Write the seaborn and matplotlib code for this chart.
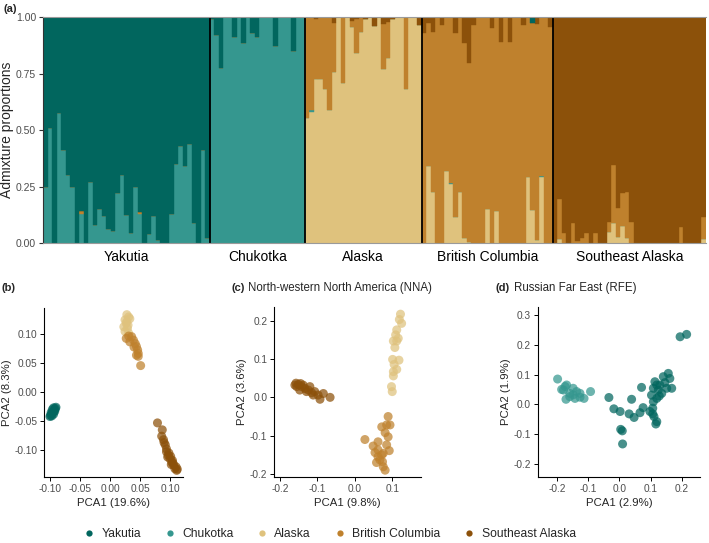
"""Admixture barplot (a) plus three PCA panels (b)-(d)."""
import numpy as np
import pandas as pd
import matplotlib
matplotlib.use("Agg")
import matplotlib.pyplot as plt
from matplotlib.lines import Line2D
import seaborn as sns

POPS = ["Yakutia", "Chukotka", "Alaska", "British Columbia", "Southeast Alaska"]
COLORS = {
    "Yakutia": "#01665e",
    "Chukotka": "#35978f",
    "Alaska": "#dfc27d",
    "British Columbia": "#bf812d",
    "Southeast Alaska": "#8c510a",
}
# bottom -> top order of the stacked admixture bars
STACK_ORDER = ["Alaska", "Chukotka", "British Columbia", "Southeast Alaska", "Yakutia"]

# ---- (a) admixture: minor components per individual, major = remainder ----
yak_chuk = [0.246, 0.51, 0, 0.574, 0.41, 0.30, 0.25, 0, 0.13, 0, 0.27, 0.08, 0.15,
            0.12, 0.06, 0.053, 0.22, 0.30, 0.124, 0.043, 0.25, 0.128, 0, 0.04, 0.12,
            0.015, 0, 0, 0.128, 0.35, 0.43, 0.34, 0.44, 0.087, 0, 0.41, 0.024]
yak_bc = [0, 0, 0, 0, 0, 0, 0, 0, 0.012, 0, 0, 0, 0, 0, 0, 0, 0, 0, 0, 0, 0,
          0.01, 0, 0, 0, 0, 0, 0, 0, 0, 0, 0, 0, 0, 0, 0, 0]

chuk_yak = [0.01, 0.078, 0.225, 0, 0, 0.09, 0, 0.115, 0, 0.07, 0.09, 0, 0, 0,
            0.13, 0, 0, 0, 0.15, 0, 0]

ala_bc = [0.448, 0.41, 0.266, 0.276, 0.32, 0.41, 0.214, 0, 0.29, 0, 0.03, 0.15,
          0.065, 0, 0, 0, 0, 0.2, 0.16, 0, 0, 0, 0.32, 0, 0, 0]
ala_sea = [0, 0, 0.01, 0, 0, 0, 0.028, 0, 0, 0, 0.016, 0.01, 0, 0.008, 0, 0.04,
           0, 0.03, 0.02, 0.01, 0, 0, 0, 0, 0, 0.035]
ala_chuk = [0, 0.012, 0, 0, 0, 0, 0, 0, 0, 0, 0, 0, 0, 0, 0, 0, 0, 0, 0, 0, 0,
            0, 0, 0, 0, 0]

bc_ala = [0, 0.34, 0.227, 0, 0, 0.32, 0.26, 0.116, 0.227, 0.02, 0.005, 0, 0, 0,
          0.15, 0, 0.14, 0, 0, 0, 0, 0, 0, 0.29, 0.146, 0.013, 0.29, 0, 0]
bc_sea = [0.072, 0.028, 0.065, 0, 0.035, 0, 0, 0.07, 0, 0.117, 0.205, 0.035, 0,
          0, 0, 0.05, 0, 0.11, 0, 0.11, 0, 0, 0.035, 0, 0, 0.03, 0, 0, 0.045]
bc_yak = [0] * 23 + [0, 0.028, 0, 0, 0, 0, 0]
bc_chuk = [0, 0, 0, 0, 0, 0, 0.005, 0, 0, 0, 0, 0, 0, 0, 0, 0, 0, 0, 0, 0, 0,
           0, 0, 0, 0, 0, 0.006, 0, 0]

sea_bc = [0, 0.177, 0.046, 0, 0.09, 0.01, 0.02, 0.043, 0, 0.046, 0, 0, 0.044,
          0.257, 0.125, 0.148, 0.207, 0.094, 0, 0, 0, 0, 0, 0, 0, 0, 0, 0,
          0.072, 0, 0, 0, 0, 0.097]
sea_ala = [0, 0.016, 0, 0, 0, 0, 0, 0, 0, 0, 0, 0, 0.05, 0.087, 0.028, 0.075,
           0.02, 0, 0, 0, 0, 0, 0, 0, 0, 0, 0, 0, 0, 0, 0, 0, 0, 0.016]

ADMIX = {
    "Yakutia": {"Chukotka": yak_chuk, "British Columbia": yak_bc},
    "Chukotka": {"Yakutia": chuk_yak},
    "Alaska": {"British Columbia": ala_bc, "Southeast Alaska": ala_sea,
               "Chukotka": ala_chuk},
    "British Columbia": {"Alaska": bc_ala, "Southeast Alaska": bc_sea,
                         "Yakutia": bc_yak, "Chukotka": bc_chuk},
    "Southeast Alaska": {"British Columbia": sea_bc, "Alaska": sea_ala},
}

# ---- PCA coordinates (PCA1, PCA2) ----
b_yakutia = [(-0.099, -0.040), (-0.097, -0.037), (-0.095, -0.034), (-0.093, -0.031),
             (-0.091, -0.028), (-0.096, -0.030), (-0.094, -0.038), (-0.098, -0.035),
             (-0.092, -0.033), (-0.100, -0.042), (-0.090, -0.026), (-0.094, -0.027),
             (-0.097, -0.041)]
b_chukotka = [(-0.096, -0.036), (-0.094, -0.033), (-0.092, -0.030)]
b_alaska = [(0.028, 0.134), (0.031, 0.130), (0.025, 0.125), (0.027, 0.119),
            (0.023, 0.113), (0.029, 0.110), (0.025, 0.105), (0.031, 0.102),
            (0.028, 0.122), (0.033, 0.127), (0.030, 0.116)]
b_bc = [(0.027, 0.093), (0.036, 0.096), (0.039, 0.090), (0.042, 0.084), (0.044, 0.079),
        (0.046, 0.073), (0.047, 0.067), (0.047, 0.062), (0.044, 0.064), (0.033, 0.087),
        (0.031, 0.097), (0.040, 0.078), (0.051, 0.046)]
b_sea = [(0.079, -0.053), (0.087, -0.065), (0.086, -0.076), (0.089, -0.082),
         (0.092, -0.091), (0.090, -0.087), (0.094, -0.098), (0.094, -0.103),
         (0.097, -0.109), (0.098, -0.105), (0.100, -0.115), (0.101, -0.111),
         (0.103, -0.121), (0.104, -0.118), (0.106, -0.126), (0.105, -0.123),
         (0.108, -0.132), (0.110, -0.129), (0.111, -0.135), (0.112, -0.133),
         (0.096, -0.112), (0.102, -0.125)]

c_alaska = [(0.122, 0.217), (0.119, 0.203), (0.125, 0.193), (0.112, 0.176),
            (0.109, 0.163), (0.103, 0.147), (0.112, 0.147), (0.116, 0.154),
            (0.107, 0.130), (0.101, 0.099), (0.118, 0.097), (0.105, 0.086),
            (0.112, 0.073), (0.103, 0.067), (0.103, 0.056), (0.098, 0.028),
            (0.100, 0.015)]
c_bc = [(0.089, -0.050), (0.085, -0.072), (0.094, -0.072), (0.072, -0.077),
        (0.081, -0.092), (0.089, -0.103), (0.027, -0.110), (0.049, -0.127),
        (0.062, -0.116), (0.085, -0.124), (0.076, -0.146), (0.092, -0.139),
        (0.054, -0.144), (0.062, -0.155), (0.072, -0.150), (0.058, -0.170),
        (0.067, -0.163), (0.076, -0.181), (0.081, -0.190), (0.062, -0.137),
        (0.074, -0.168)]
c_sea = [(-0.160, 0.032), (-0.151, 0.034), (-0.142, 0.028), (-0.133, 0.023),
         (-0.124, 0.019), (-0.115, 0.012), (-0.107, 0.015), (-0.098, 0.006),
         (-0.093, -0.005), (-0.084, 0.010), (-0.066, 0.000), (-0.147, 0.019),
         (-0.129, 0.015), (-0.138, 0.032), (-0.155, 0.028), (-0.120, 0.028),
         (-0.111, 0.006), (-0.157, 0.037), (-0.145, 0.036)]

d_chukotka = [(-0.199, 0.085), (-0.175, 0.060), (-0.170, 0.065), (-0.186, 0.050),
              (-0.149, 0.054), (-0.160, 0.037), (-0.138, 0.043), (-0.127, 0.037),
              (-0.172, 0.017), (-0.143, 0.020), (-0.127, 0.024), (-0.114, 0.020),
              (-0.093, 0.043), (-0.160, 0.026), (-0.149, 0.032), (-0.180, 0.048)]
d_yakutia = [(-0.034, 0.023), (-0.018, -0.015), (0.002, -0.024), (0.039, 0.017),
             (0.031, -0.032), (0.047, -0.044), (0.071, 0.057), (0.066, -0.028),
             (0.076, -0.011), (0.098, -0.024), (0.107, -0.032), (0.004, -0.084),
             (0.009, -0.089), (0.010, -0.133), (0.109, 0.054), (0.114, 0.076),
             (0.120, 0.065), (0.109, 0.009), (0.120, 0.020), (0.128, 0.028),
             (0.125, 0.048), (0.141, 0.093), (0.157, 0.104), (0.162, 0.087),
             (0.146, 0.073), (0.152, 0.054), (0.168, 0.054), (0.130, 0.065),
             (0.117, -0.066), (0.120, -0.058), (0.111, -0.041), (0.107, -0.013),
             (0.195, 0.227), (0.216, 0.235), (0.136, 0.037), (0.103, 0.031)]

TICK_GREY = "#4d4d4d"


def admixture_frame():
    rows = []
    bar = 0
    for pop in POPS:
        minors = ADMIX[pop]
        n = len(next(iter(minors.values())))
        for i in range(n):
            rest = 1.0
            for cl, vals in minors.items():
                rows.append((bar, pop, cl, vals[i]))
                rest -= vals[i]
            rows.append((bar, pop, pop, rest))
            bar += 1
    return pd.DataFrame(rows, columns=["bar", "pop", "cluster", "prop"])


def pca_frame(groups):
    frames = []
    for pop, pts in groups:
        d = pd.DataFrame(pts, columns=["PC1", "PC2"])
        d["pop"] = pop
        frames.append(d)
    return pd.concat(frames, ignore_index=True)


sns.set_theme(style="ticks")
plt.rcParams["font.family"] = ["Liberation Sans", "DejaVu Sans"]
plt.rcParams["axes.unicode_minus"] = False

W, H = 709, 543
fig = plt.figure(figsize=(W / 100, H / 100), dpi=100)


def px_axes(l, t, r, b):
    return fig.add_axes([l / W, 1 - b / H, (r - l) / W, (b - t) / H])


# ---------------- (a) ----------------
adm = admixture_frame()
wide = adm.pivot_table(index="bar", columns="cluster", values="prop",
                       aggfunc="sum").fillna(0)[STACK_ORDER]
ax = px_axes(43, 17, 706, 243)
bottom = np.zeros(len(wide))
for cl in STACK_ORDER:
    ax.bar(wide.index, wide[cl], bottom=bottom, width=1.0, color=COLORS[cl],
           edgecolor=COLORS[cl], linewidth=0.3)
    bottom += wide[cl].to_numpy()

counts = adm.groupby("pop", sort=False)["bar"].nunique().reindex(POPS)
edges = np.cumsum(counts.to_numpy())
starts = edges - counts.to_numpy()
for e in edges[:-1]:
    ax.axvline(e - 0.5, color="black", lw=1.3)
ax.set_xlim(-0.5, edges[-1] - 0.5)
ax.set_ylim(0, 1)
ax.set_xticks((starts + edges - 1) / 2)
ax.set_xticklabels(POPS, fontsize=10, color="black")
ax.tick_params(axis="x", length=0, pad=5)
ax.set_yticks([0, 0.25, 0.5, 0.75, 1.0])
ax.set_yticklabels(["0.00", "0.25", "0.50", "0.75", "1.00"], fontsize=7.5,
                   color=TICK_GREY)
ax.tick_params(axis="y", length=3, width=0.8, color="#333333", pad=2)
ax.set_ylabel("Admixture proportions", fontsize=10, labelpad=1)
for side in ("left", "top", "bottom"):
    ax.spines[side].set_color("#9a9a9a")
    ax.spines[side].set_linewidth(0.8)
ax.spines["left"].set_color("#333333")
ax.spines["right"].set_visible(False)
fig.text(3 / W, 1 - 9 / H, "(a)", fontsize=8, fontweight="bold", va="center")

# ---------------- PCA panels ----------------
panels = [
    (px_axes(44.3, 308.3, 182.7, 477.3),
     [("Chukotka", b_chukotka), ("Yakutia", b_yakutia), ("Alaska", b_alaska),
      ("British Columbia", b_bc), ("Southeast Alaska", b_sea)],
     (-0.1094, 0.121), (-0.147, 0.145),
     [-0.10, -0.05, 0.0, 0.05, 0.10], [-0.10, -0.05, 0.0, 0.05, 0.10], "%.2f", "%.2f",
     "PCA1 (19.6%)", "PCA2 (8.3%)"),
    (px_axes(274.3, 306.7, 420.7, 476.7),
     [("Alaska", c_alaska), ("British Columbia", c_bc), ("Southeast Alaska", c_sea)],
     (-0.215, 0.176), (-0.207, 0.2365),
     [-0.2, -0.1, 0.0, 0.1], [-0.2, -0.1, 0.0, 0.1, 0.2], "%.1f", "%.1f",
     "PCA1 (9.8%)", "PCA2 (3.6%)"),
    (px_axes(537.7, 306.7, 700, 477.3),
     [("Chukotka", d_chukotka), ("Yakutia", d_yakutia)],
     (-0.263, 0.259), (-0.245, 0.328),
     [-0.2, -0.1, 0.0, 0.1, 0.2], [-0.2, -0.1, 0.0, 0.1, 0.2, 0.3], "%.1f", "%.1f",
     "PCA1 (2.9%)", "PCA2 (1.9%)"),
]

for pax, groups, xl, yl, xt, yt, xf, yf, xlab, ylab in panels:
    df = pca_frame(groups)
    sns.scatterplot(data=df, x="PC1", y="PC2", hue="pop", palette=COLORS,
                    s=42, alpha=0.72, linewidth=0, legend=False, ax=pax)
    pax.set_xlim(*xl)
    pax.set_ylim(*yl)
    pax.set_xticks(xt)
    pax.set_xticklabels([xf % v for v in xt])
    pax.set_yticks(yt)
    pax.set_yticklabels([yf % v for v in yt])
    pax.tick_params(labelsize=7.3, labelcolor=TICK_GREY, length=3, width=0.7,
                    color="black", pad=2)
    pax.set_xlabel(xlab, fontsize=8.2, labelpad=3)
    pax.set_ylabel(ylab, fontsize=8.2, labelpad=2)
    sns.despine(ax=pax)
    for side in ("left", "bottom"):
        pax.spines[side].set_color("black")
        pax.spines[side].set_linewidth(0.8)

fig.text(2 / W, 1 - 288 / H, "(b)", fontsize=8, fontweight="bold", va="center")
fig.text(232 / W, 1 - 288 / H, "(c)", fontsize=8, fontweight="bold", va="center")
fig.text(248 / W, 1 - 288 / H, "North-western North America (NNA)", fontsize=8.3,
         va="center")
fig.text(496 / W, 1 - 288 / H, "(d)", fontsize=8, fontweight="bold", va="center")
fig.text(514 / W, 1 - 288 / H, "Russian Far East (RFE)", fontsize=8.3, va="center")

handles = [Line2D([], [], marker="o", ls="", markersize=4.5, color=COLORS[p],
                  markeredgewidth=0) for p in POPS]
fig.legend(handles, POPS, loc="center", bbox_to_anchor=(330 / W, 1 - 534 / H),
           ncol=5, frameon=False, fontsize=8.7, handlelength=0.8,
           handletextpad=0.6, columnspacing=2.0)

fig.savefig("out.png", dpi=100)
